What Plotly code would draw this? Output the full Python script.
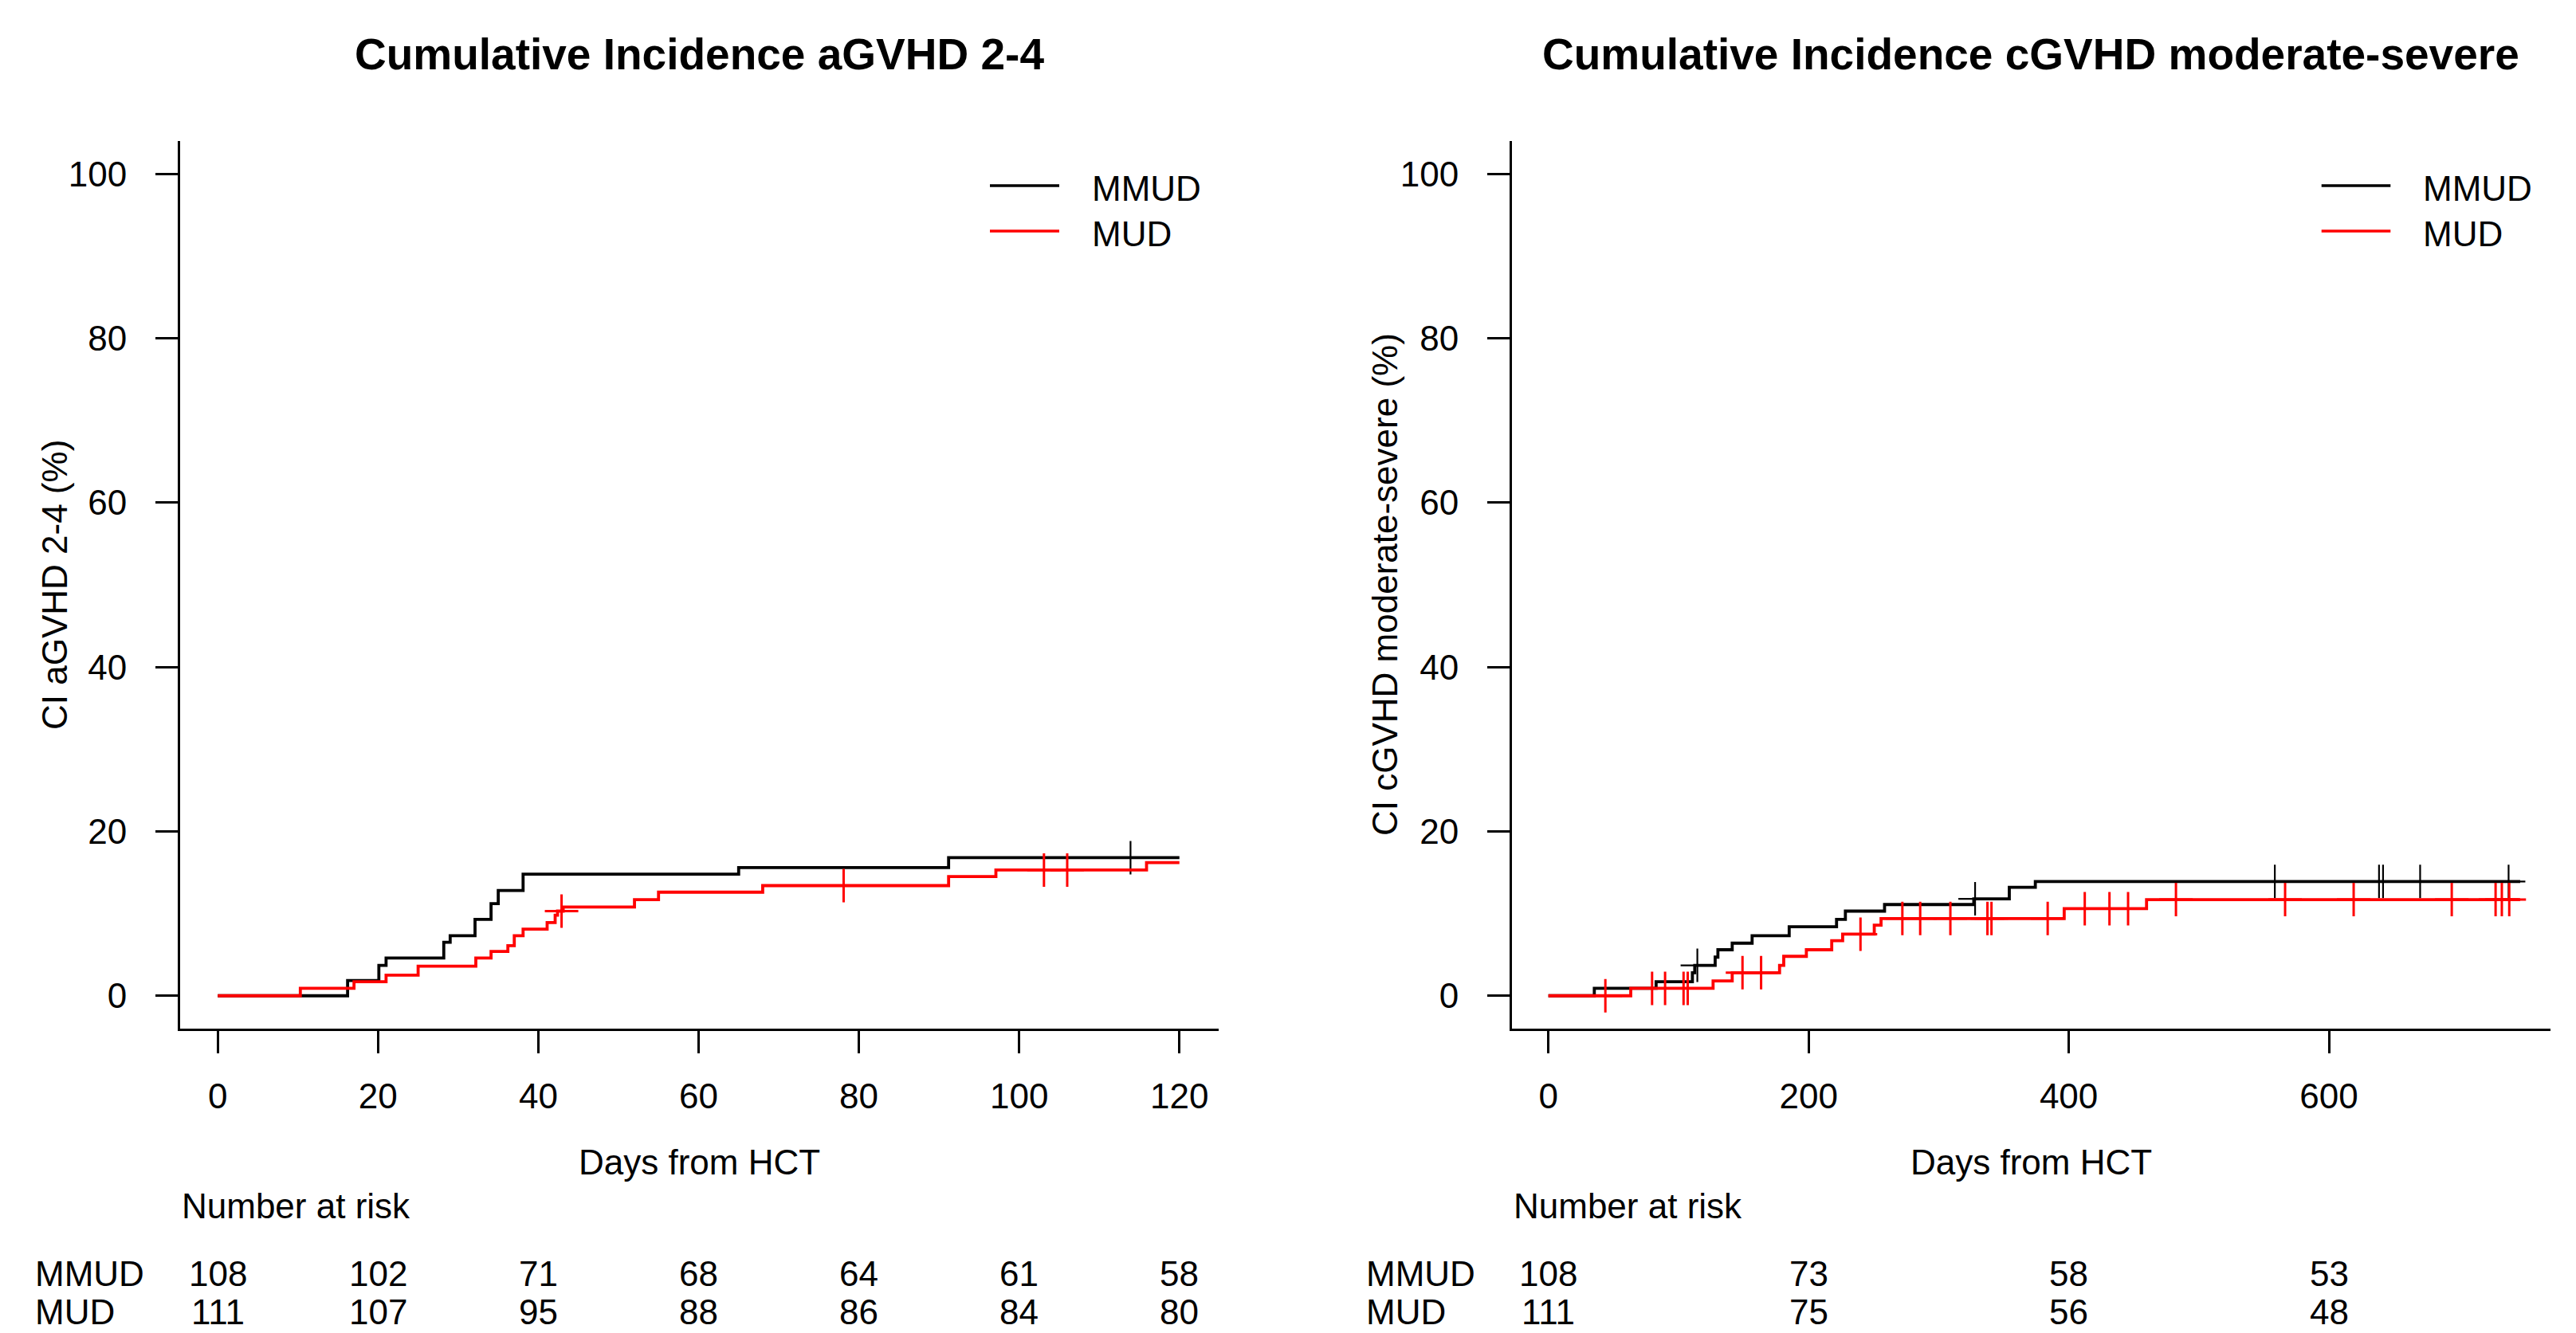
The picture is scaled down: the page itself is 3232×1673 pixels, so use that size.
import plotly.graph_objects as go

W, H = 3232, 1673
FONT = "Liberation Sans, Arial, sans-serif"
FS = 44
TITLE_FS = 55

# ---------------- Left panel: aGVHD 2-4 ----------------
a_mmud_t = [0, 16.2, 20.1, 21.0, 28.2, 29.0, 32.1, 34.1, 35.0, 38.1, 65.0, 91.2, 120]
a_mmud_ci = [0, 1.85, 3.7, 4.6, 6.5, 7.3, 9.3, 11.2, 12.8, 14.8, 15.6, 16.8, 16.8]
a_mmud_cens = [113.9]
a_mud_t = [0, 10.3, 17.0, 21.0, 25.0, 32.2, 34.1, 36.2, 37.0, 38.1, 41.1, 42.1, 42.4,
           43.1, 52.0, 55.0, 68.0, 91.2, 97.1, 115.9, 120]
a_mud_ci = [0, 0.9, 1.7, 2.5, 3.6, 4.6, 5.4, 6.1, 7.3, 8.1, 8.9, 9.8, 10.3,
            10.8, 11.7, 12.6, 13.4, 14.5, 15.3, 16.2, 16.2]
a_mud_cens = [42.9, 78.1, 103.1, 106.0]
a_risk_t = [0, 20, 40, 60, 80, 100, 120]
a_risk_mmud = [108, 102, 71, 68, 64, 61, 58]
a_risk_mud = [111, 107, 95, 88, 86, 84, 80]
a_xticks = [0, 20, 40, 60, 80, 100, 120]

# ---------------- Right panel: cGVHD moderate-severe ----------------
c_mmud_t = [0, 35.3, 82.8, 110.7, 112.5, 128.2, 130.3, 141.3, 156.6, 185.1, 221.5,
            228.3, 258.4, 327.0, 354.3, 374.3, 747]
c_mmud_ci = [0, 0.9, 1.7, 2.8, 3.7, 4.7, 5.6, 6.4, 7.3, 8.4, 9.3,
             10.3, 11.1, 11.8, 13.2, 13.9, 13.9]
c_mmud_cens = [114.5, 328.0, 558.4, 638.5, 641.6, 670.1, 738.1]
c_mud_t = [0, 63.3, 126.6, 141.3, 177.7, 180.9, 198.3, 217.8, 226.2, 250.5, 255.7,
           396.5, 459.8, 747]
c_mud_ci = [0, 0.9, 1.8, 2.8, 3.7, 4.8, 5.6, 6.7, 7.5, 8.6, 9.4, 10.6, 11.7, 11.7]
c_mud_cens = [43.8, 79.7, 89.7, 103.9, 107.1, 149.2, 163.5, 239.9, 272.1, 285.8,
              309.0, 337.5, 340.6, 383.8, 412.3, 431.3, 445.6, 482.4, 566.3, 619.0,
              694.4, 728.1, 732.9, 738.6]
c_risk_t = [0, 200, 400, 600]
c_risk_mmud = [108, 73, 58, 53]
c_risk_mud = [111, 75, 56, 48]
c_xticks = [0, 200, 400, 600]

y_ticks = [0, 20, 40, 60, 80, 100]
groups = ["MMUD", "MUD"]
colors = {"MMUD": "#000000", "MUD": "#FF0000"}


def step_at(ts, vs, t):
    v = vs[0]
    for ti, vi in zip(ts, vs):
        if ti <= t:
            v = vi
    return v


def px_x(p):
    return p / W


def px_y(p):
    return 1 - p / H


fig = go.Figure()

panels = [
    ("x", "y", (a_mmud_t, a_mmud_ci, a_mmud_cens), (a_mud_t, a_mud_ci, a_mud_cens)),
    ("x2", "y2", (c_mmud_t, c_mmud_ci, c_mmud_cens), (c_mud_t, c_mud_ci, c_mud_cens)),
]
for xa, ya, mm, mu in panels:
    for name, (ts, vs, cens) in (("MMUD", mm), ("MUD", mu)):
        col = colors[name]
        fig.add_trace(go.Scatter(
            x=ts, y=vs, mode="lines", line=dict(color=col, width=3.8, shape="hv"),
            xaxis=xa, yaxis=ya, name=name, showlegend=False, hoverinfo="skip"))
        fig.add_trace(go.Scatter(
            x=cens, y=[step_at(ts, vs, c) for c in cens], mode="markers",
            marker=dict(symbol="cross-thin", size=30, color=col,
                        line=dict(color=col, width=3 if name == "MUD" else 2.2)),
            xaxis=xa, yaxis=ya, showlegend=False, hoverinfo="skip"))

left_dom = [px_x(226), px_x(1529)]
right_dom = [px_x(1897), px_x(3199.5)]
y_dom = [px_y(1291), px_y(177)]

axis_common = dict(
    showline=True, linecolor="black", linewidth=3, mirror=False,
    ticks="outside", ticklen=28, tickwidth=3, tickcolor="black",
    showgrid=False, zeroline=False,
    tickfont=dict(family=FONT, size=FS, color="black"),
)

fig.update_layout(
    width=W, height=H, margin=dict(l=0, r=0, t=0, b=0),
    paper_bgcolor="white", plot_bgcolor="white", showlegend=False,
    font=dict(family=FONT, size=FS, color="black"),
    xaxis=dict(domain=left_dom, range=[-4.7, 124.9], tickvals=a_xticks,
               anchor="y", ticklabelstandoff=16, **axis_common),
    yaxis=dict(domain=y_dom, range=[-4, 104], tickvals=y_ticks,
               anchor="x", ticklabelstandoff=27, **axis_common),
    xaxis2=dict(domain=right_dom, range=[-28, 770], tickvals=c_xticks,
                anchor="y2", ticklabelstandoff=16, **axis_common),
    yaxis2=dict(domain=y_dom, range=[-4, 104], tickvals=y_ticks,
                anchor="x2", ticklabelstandoff=27, **axis_common),
)

ann = []
shapes = []
titles = ["<b>Cumulative Incidence aGVHD 2-4</b>",
          "<b>Cumulative Incidence cGVHD moderate-severe</b>"]
ytitles = ["CI aGVHD 2-4 (%)", "CI cGVHD moderate-severe (%)"]
ytitle_x = [68, 1737]
rowlab_x = [43, 1713]
legend_line_x = [(1242, 1329), (2912.7, 2999.3)]
legend_text_x = [1368, 3038]
risk_sets = [(a_risk_t, a_risk_mmud, a_risk_mud), (c_risk_t, c_risk_mmud, c_risk_mud)]

for i, (xa, dom) in enumerate((("x", left_dom), ("x2", right_dom))):
    ann.append(dict(text=titles[i], xref=f"{xa} domain", x=0.5, yref="paper", y=px_y(68),
                    xanchor="center", yanchor="middle", showarrow=False,
                    font=dict(family=FONT, size=TITLE_FS, color="black")))
    ann.append(dict(text=ytitles[i], xref="paper", x=px_x(ytitle_x[i]), yref="paper",
                    y=px_y(734), textangle=-90, xanchor="center", yanchor="middle",
                    showarrow=False, font=dict(family=FONT, size=FS, color="black")))
    ann.append(dict(text="Days from HCT", xref=f"{xa} domain", x=0.5, yref="paper",
                    y=px_y(1458), xanchor="center", yanchor="middle", showarrow=False,
                    font=dict(family=FONT, size=FS, color="black")))
    ann.append(dict(text="Number at risk", xref=f"{xa} domain", x=0, yref="paper",
                    y=px_y(1513), xanchor="left", yanchor="middle", showarrow=False,
                    font=dict(family=FONT, size=FS, color="black")))
    rt, rm, ru = risk_sets[i]
    rows = (("MMUD", rm, px_y(1598), "middle"), ("MUD", ru, px_y(1672), "bottom"))
    for g, vals, yy, yanc in rows:
        ann.append(dict(text=g, xref="paper", x=px_x(rowlab_x[i]), yref="paper",
                        y=yy, xanchor="left", yanchor=yanc, showarrow=False,
                        borderpad=0,
                        font=dict(family=FONT, size=FS, color="black")))
        for t, v in zip(rt, vals):
            ann.append(dict(text=str(v), xref=xa, x=t, yref="paper", y=yy,
                            xanchor="center", yanchor=yanc, showarrow=False,
                            borderpad=0,
                            font=dict(family=FONT, size=FS, color="black")))
    # legend
    x0, x1 = legend_line_x[i]
    for g, ly in (("MMUD", 233), ("MUD", 290)):
        shapes.append(dict(type="line", xref="paper", yref="paper",
                           x0=px_x(x0), x1=px_x(x1), y0=px_y(ly), y1=px_y(ly),
                           line=dict(color=colors[g], width=3.5)))
        ann.append(dict(text=g, xref="paper", x=px_x(legend_text_x[i]), yref="paper",
                        y=px_y(ly + 3), xanchor="left", yanchor="middle",
                        showarrow=False,
                        font=dict(family=FONT, size=FS, color="black")))

fig.update_layout(annotations=ann, shapes=shapes)

fig.write_html("out.html", config={"displayModeBar": False},
               post_script="document.body.style.margin='0';document.body.style.overflow='hidden';")
